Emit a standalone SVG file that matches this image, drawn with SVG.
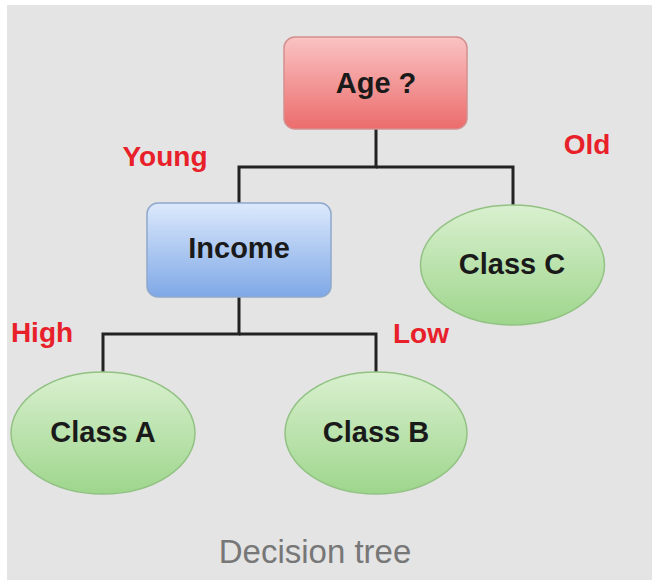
<svg xmlns="http://www.w3.org/2000/svg" width="652" height="580" viewBox="0 0 652 580">
  <defs>
    <linearGradient id="gRed" x1="0" y1="0" x2="0" y2="1">
      <stop offset="0" stop-color="#fac3c3"/>
      <stop offset="1" stop-color="#ec6c6c"/>
    </linearGradient>
    <linearGradient id="gBlue" x1="0" y1="0" x2="0" y2="1">
      <stop offset="0" stop-color="#dce9fc"/>
      <stop offset="1" stop-color="#7fa8e6"/>
    </linearGradient>
    <linearGradient id="gGreen" x1="0" y1="0" x2="0" y2="1">
      <stop offset="0" stop-color="#d9f0cf"/>
      <stop offset="1" stop-color="#9ed68c"/>
    </linearGradient>
    <style>
      .lbl { font-family: "Liberation Sans", Arial, sans-serif; font-weight: bold; font-size: 29px; fill: #1a1a1a; text-anchor: middle; }
      .edge { font-family: "Liberation Sans", Arial, sans-serif; font-weight: bold; font-size: 28px; fill: #e8202a; text-anchor: middle; }
      .wire { fill: none; stroke: #222; stroke-width: 3; }
      .leaf { fill: url(#gGreen); stroke: #92c283; stroke-width: 1.5; }
    </style>
  </defs>

  <rect x="0" y="0" width="652" height="580" fill="#ffffff"/>
  <rect x="7" y="5" width="645" height="575" fill="#e4e4e4"/>

  <g id="connectors">
    <polyline class="wire" points="376,129 376,167 239,167 239,203"/>
    <polyline class="wire" points="376,167 513,167 513,205"/>
    <polyline class="wire" points="239,297 239,334 103,334 103,372"/>
    <polyline class="wire" points="239,334 376,334 376,372"/>
  </g>

  <g id="edge-labels">
    <text class="edge" x="165" y="166">Young</text>
    <text class="edge" x="587" y="154">Old</text>
    <text class="edge" x="42" y="342">High</text>
    <text class="edge" x="421" y="343">Low</text>
  </g>

  <g id="age">
    <rect x="284" y="37" width="183" height="92" rx="11" fill="url(#gRed)" stroke="#d58e8e" stroke-width="1.5"/>
    <text class="lbl" x="376" y="93">Age ?</text>
  </g>

  <g id="income">
    <rect x="147" y="203" width="184" height="94" rx="11" fill="url(#gBlue)" stroke="#8fa8cc" stroke-width="1.5"/>
    <text class="lbl" x="239" y="258">Income</text>
  </g>

  <g id="class-c">
    <ellipse class="leaf" cx="512.5" cy="265" rx="92" ry="60"/>
    <text class="lbl" x="512" y="274">Class C</text>
  </g>

  <g id="class-a">
    <ellipse class="leaf" cx="103" cy="433" rx="92" ry="61"/>
    <text class="lbl" x="103" y="442">Class A</text>
  </g>

  <g id="class-b">
    <ellipse class="leaf" cx="376" cy="433" rx="91" ry="61"/>
    <text class="lbl" x="376" y="442">Class B</text>
  </g>

  <text x="315" y="563" font-family="Liberation Sans, Arial, sans-serif" font-size="33" fill="#777777" text-anchor="middle">Decision tree</text>
</svg>
